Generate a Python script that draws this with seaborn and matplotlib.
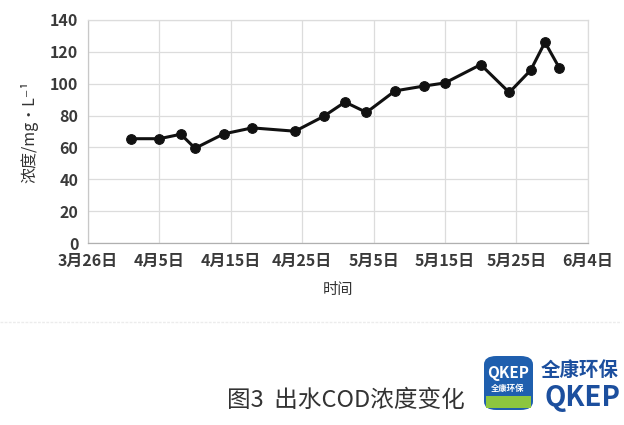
import pandas as pd
import numpy as np
import seaborn as sns
import matplotlib.pyplot as plt
import matplotlib.dates as mdates
from matplotlib.patches import FancyBboxPatch, Rectangle

# data
dates = ['2020-04-01', '2020-04-05', '2020-04-08', '2020-04-10', '2020-04-14',
         '2020-04-18', '2020-04-24', '2020-04-28', '2020-05-01', '2020-05-04',
         '2020-05-08', '2020-05-12', '2020-05-15', '2020-05-20', '2020-05-24',
         '2020-05-27', '2020-05-29', '2020-05-31']
cod = [65.5, 65.5, 68.3, 59.5, 68.5, 72.3, 70.2, 79.5, 88.5, 82.0,
       95.5, 98.5, 100.5, 112.0, 94.5, 108.5, 126.0, 110.0]
tick_dates = ['2020-03-26', '2020-04-05', '2020-04-15', '2020-04-25',
              '2020-05-05', '2020-05-15', '2020-05-25', '2020-06-04']
y_ticks = [0, 20, 40, 60, 80, 100, 120, 140]

df = pd.DataFrame({'date': pd.to_datetime(dates), 'cod': cod})

sns.set_style('white')
plt.rcParams['font.family'] = ['Noto Sans CJK SC', 'DejaVu Sans']

fig = plt.figure(figsize=(6.24, 4.25), dpi=100)
ax = fig.add_axes([0.141, 0.428, 0.801, 0.525])

sns.lineplot(data=df, x='date', y='cod', ax=ax, color='#111111', linewidth=2.2,
             marker='o', markersize=7, markeredgecolor='#111111')

ticks = pd.to_datetime(tick_dates)
ax.set_xlim(ticks[0], ticks[-1])
ax.set_xticks(ticks)
ax.set_xticklabels([f'{d.month}月{d.day}日' for d in ticks])
ax.set_ylim(0, 140)
ax.set_yticks(y_ticks)

ax.grid(True, color='#dcdcdc', linewidth=0.9)
for s in ax.spines.values():
    s.set_color('#dcdcdc')
    s.set_linewidth(0.9)
ax.spines['bottom'].set_color('#b0b0b0')
ax.spines['left'].set_color('#c8c8c8')
ax.tick_params(axis='both', length=0, labelsize=11.5, labelcolor='#3a3a3a', pad=7)
for lab in ax.get_xticklabels() + ax.get_yticklabels():
    lab.set_fontweight('bold')
ax.set_xlabel('时间', fontsize=11, color='#333333', labelpad=9)
ax.set_ylabel('浓度/mg·L⁻¹', fontsize=11.5, color='#333333', labelpad=8)

# faint scan border
fig.add_artist(plt.Line2D([0, 0.995], [1 - 322 / 425] * 2, color='#ececec',
                          linewidth=1, linestyle=(0, (2, 1))))

# caption
fig.text(0.555, 1 - 400 / 425, '图3  出水COD浓度变化', fontsize=17, color='#333333',
         ha='center', va='center')

# logo
fig.add_artist(FancyBboxPatch((484 / 624, 1 - 410 / 425), 49 / 624, 54 / 425,
                              boxstyle='round,pad=0,rounding_size=0.02',
                              facecolor='#1f5fae', edgecolor='none',
                              transform=fig.transFigure))
fig.add_artist(Rectangle((486 / 624, 1 - 408 / 425), 45 / 624, 12 / 425,
                         facecolor='#8cc63f', edgecolor='none',
                         transform=fig.transFigure))
fig.text(508 / 624, 1 - 373 / 425, 'QKEP', fontsize=11, fontweight='bold',
         color='white', ha='center', va='center')
fig.text(508 / 624, 1 - 388 / 425, '全康环保', fontsize=6, fontweight='bold',
         color='white', ha='center', va='center')
fig.text(580 / 624, 1 - 370 / 425, '全康环保', fontsize=14, fontweight='bold',
         color='#1c4f9e', ha='center', va='center')
fig.text(583 / 624, 1 - 398 / 425, 'QKEP', fontsize=20, fontweight='bold',
         color='#1c4f9e', ha='center', va='center')

fig.savefig('out.png', dpi=100, facecolor='white')
